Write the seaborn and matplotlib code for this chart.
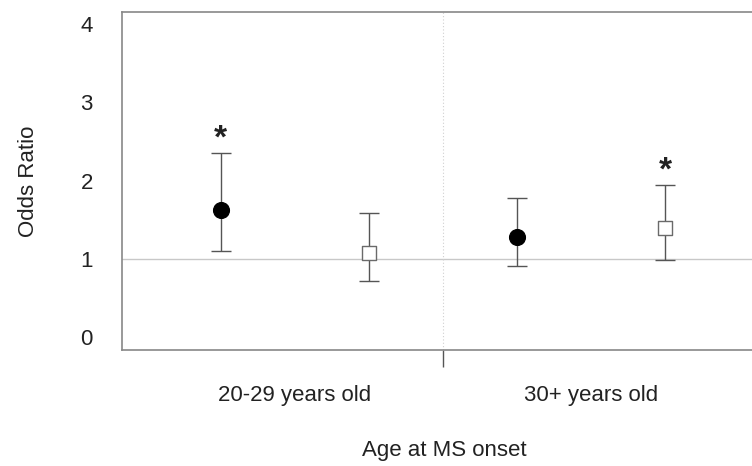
import numpy as np
import pandas as pd
import matplotlib
matplotlib.use("Agg")
import matplotlib.pyplot as plt
import seaborn as sns

# data
age_groups = ["20-29 years old", "30+ years old"]
group_idx = [0, 0, 1, 1]
series = ["circle", "square", "circle", "square"]
odds_ratio = [1.62, 1.08, 1.28, 1.40]
ci_low = [1.10, 0.72, 0.91, 0.99]
ci_high = [2.35, 1.59, 1.78, 1.95]
significant = [True, False, False, True]

sns.set_style("white")
plt.rcParams["font.family"] = ["Liberation Sans", "DejaVu Sans"]

df = pd.DataFrame({"group": group_idx, "series": series, "OR": odds_ratio,
                   "lo": ci_low, "hi": ci_high, "sig": significant})
offset = {"circle": -0.25, "square": 0.25}
df["x"] = df["group"] + df["series"].map(offset)

fig = plt.figure(figsize=(7.52, 4.66), dpi=100)
ax = fig.add_axes([122 / 752, 1 - 350 / 466, 1 - 122 / 752 + 0.02, 338 / 466])

# reference line at OR = 1 and divider between groups
ax.axhline(1, color="#c8c8c8", lw=1, zorder=1)
ax.axvline(0.5, color="#cfcfcf", lw=0.8, ls=(0, (1, 2)), zorder=1)

ax.errorbar(df["x"], df["OR"], yerr=[df["OR"] - df["lo"], df["hi"] - df["OR"]],
            fmt="none", ecolor="#555555", elinewidth=1, capsize=7, capthick=1, zorder=2)

sns.scatterplot(data=df[df["series"] == "circle"], x="x", y="OR", ax=ax,
                marker="o", s=130, color="black", edgecolor="black", zorder=3, legend=False)
sns.scatterplot(data=df[df["series"] == "square"], x="x", y="OR", ax=ax,
                marker="s", s=90, color="white", edgecolor="#6a6a6a", linewidth=1,
                zorder=3, legend=False)

for _, r in df[df["sig"]].iterrows():
    ax.text(r["x"], r["hi"] - 0.02, "*", ha="center", va="bottom", fontsize=24,
            fontweight="bold", color="#222222")

ax.set_xlim(-0.584, 1.544 + 0.02 * 752 / 296)
ax.set_ylim(-0.16, 4.15)
ax.set_yticks([0, 1, 2, 3, 4])
ax.set_yticklabels(["0", "1", "2", "3", "4"])
ax.set_xticks([0, 1])
ax.set_xticklabels(age_groups)
ax.tick_params(axis="y", length=0, pad=21, labelsize=16, labelcolor="#222222")
ax.tick_params(axis="x", length=0, pad=25, labelsize=16, labelcolor="#222222")
ax.set_xticks([0.5], minor=True)
ax.tick_params(axis="x", which="minor", length=12, width=1, color="#555555", direction="out", bottom=True)

for side in ["left", "bottom", "top"]:
    ax.spines[side].set_color("#888888")
    ax.spines[side].set_linewidth(1.2)
ax.spines["right"].set_visible(False)

ax.set_xlabel("Age at MS onset", fontsize=16, color="#222222", labelpad=25)
ax.set_ylabel("Odds Ratio", fontsize=16, color="#222222", labelpad=30)

fig.savefig("out.png", dpi=100)
